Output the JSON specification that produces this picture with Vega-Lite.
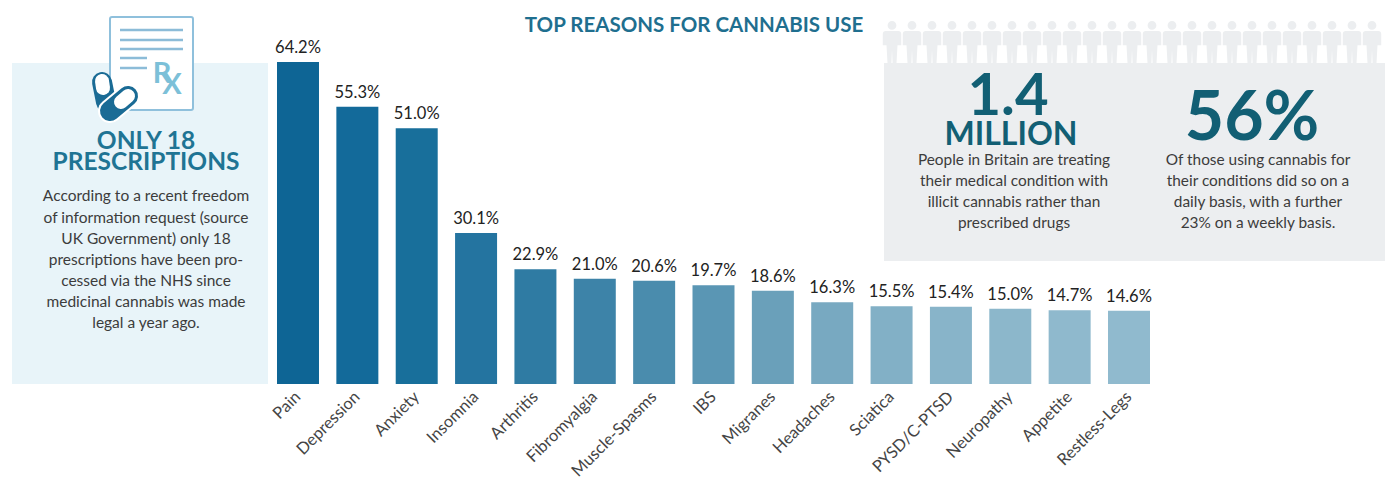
{
"$schema":"https://vega.github.io/schema/vega-lite/v6.json",
"width":1385,"height":481,"padding":0,
"autosize":{"type":"fit","contains":"padding"},
"background":"white",
"config":{"view":{"stroke":null},"text":{"font":"Lato"}},
"datasets":{
"bars":[
{"reason":"Pain","share":64.2,"label":"64.2%"},
{"reason":"Depression","share":55.3,"label":"55.3%"},
{"reason":"Anxiety","share":51.0,"label":"51.0%"},
{"reason":"Insomnia","share":30.1,"label":"30.1%"},
{"reason":"Arthritis","share":22.9,"label":"22.9%"},
{"reason":"Fibromyalgia","share":21.0,"label":"21.0%"},
{"reason":"Muscle-Spasms","share":20.6,"label":"20.6%"},
{"reason":"IBS","share":19.7,"label":"19.7%"},
{"reason":"Migranes","share":18.6,"label":"18.6%"},
{"reason":"Headaches","share":16.3,"label":"16.3%"},
{"reason":"Sciatica","share":15.5,"label":"15.5%"},
{"reason":"PYSD/C-PTSD","share":15.4,"label":"15.4%"},
{"reason":"Neuropathy","share":15.0,"label":"15.0%"},
{"reason":"Appetite","share":14.7,"label":"14.7%"},
{"reason":"Restless-Legs","share":14.6,"label":"14.6%"}
],
"panels":[
{"name":"left","px":12,"px2":268,"py":63,"py2":384},
{"name":"right","px":884,"px2":1385,"py":63,"py2":261}
],
"people":[{"px":892,"py":43},{"px":912,"py":43},{"px":932,"py":43},{"px":952,"py":43},{"px":972,"py":43},{"px":992,"py":43},{"px":1012,"py":43},{"px":1032,"py":43},{"px":1052,"py":43},{"px":1072,"py":43},{"px":1092,"py":43},{"px":1112,"py":43},{"px":1132,"py":43},{"px":1152,"py":43},{"px":1172,"py":43},{"px":1192,"py":43},{"px":1212,"py":43},{"px":1232,"py":43},{"px":1252,"py":43},{"px":1272,"py":43},{"px":1292,"py":43},{"px":1312,"py":43},{"px":1332,"py":43},{"px":1352,"py":43},{"px":1372,"py":43}]
},
"layer":[
{"layer":[
{"data":{"name":"panels"},"mark":{"type":"rect"},
 "encoding":{
  "x":{"field":"px","type":"quantitative","scale":{"domain":[0,1385],"range":[0,1385],"nice":false,"zero":false},"axis":null},
  "x2":{"field":"px2"},
  "y":{"field":"py","type":"quantitative","scale":{"domain":[0,481],"range":[0,481],"nice":false,"zero":false},"axis":null},
  "y2":{"field":"py2"},
  "color":{"field":"name","type":"nominal","scale":{"domain":["left","right"],"range":["#e8f4f9","#eceef0"]},"legend":null}}},
{"data":{"name":"people"},"mark":{"type":"point","filled":true,"opacity":1,"fill":"#eceef0","size":1936,"shape":"M0,-1 A0.2,0.2 0 1,1 0,-0.6 A0.2,0.2 0 1,1 0,-1 Z M-0.28,-0.55 L0.28,-0.55 Q0.42,-0.55 0.42,-0.4 L0.42,0.1 L0.25,0.1 L0.2,1 L0.03,1 L0,0.3 L-0.03,1 L-0.2,1 L-0.25,0.1 L-0.42,0.1 L-0.42,-0.4 Q-0.42,-0.55 -0.28,-0.55 Z"},
 "encoding":{"x":{"field":"px","type":"quantitative"},"y":{"field":"py","type":"quantitative"}}},
{"data":{"values":[{"px":110,"px2":193,"py":17,"py2":110}]},"mark":{"type":"rect","fill":"#ffffff","stroke":"#8fc0dc","strokeWidth":2,"cornerRadius":2},
 "encoding":{"x":{"field":"px","type":"quantitative"},"x2":{"field":"px2"},"y":{"field":"py","type":"quantitative"},"y2":{"field":"py2"}}},
{"data":{"values":[{"px":120,"px2":183,"py":30},{"px":120,"px2":183,"py":40},{"px":120,"px2":183,"py":49},{"px":120,"px2":147,"py":58},{"px":120,"px2":147,"py":68}]},"mark":{"type":"rule","stroke":"#8cbcd8","strokeWidth":2.5},
 "encoding":{"x":{"field":"px","type":"quantitative"},"x2":{"field":"px2"},"y":{"field":"py","type":"quantitative"}}},
{"data":{"values":[{"t":"R","px":162,"py":74},{"t":"X","px":172,"py":85}]},"mark":{"type":"text","font":"Lato","fontWeight":"bold","fontSize":29,"fill":"#7cc0d8","baseline":"middle"},
 "encoding":{"x":{"field":"px","type":"quantitative"},"y":{"field":"py","type":"quantitative"},"text":{"field":"t"}}},
{"data":{"values":[{"px":102,"py":82,"px2":106,"py2":102}]},"mark":{"type":"rule","stroke":"#1a6b95","strokeWidth":20,"strokeCap":"round"},
 "encoding":{"x":{"field":"px","type":"quantitative"},"x2":{"field":"px2"},"y":{"field":"py","type":"quantitative"},"y2":{"field":"py2"}}},
{"data":{"values":[{"px":102,"py":81,"px2":103,"py2":88}]},"mark":{"type":"rule","stroke":"#ffffff","strokeWidth":14,"strokeCap":"round"},
 "encoding":{"x":{"field":"px","type":"quantitative"},"x2":{"field":"px2"},"y":{"field":"py","type":"quantitative"},"y2":{"field":"py2"}}},
{"data":{"values":[{"px":128,"py":96,"px2":110,"py2":111}]},"mark":{"type":"rule","stroke":"#ffffff","strokeWidth":24,"strokeCap":"round"},
 "encoding":{"x":{"field":"px","type":"quantitative"},"x2":{"field":"px2"},"y":{"field":"py","type":"quantitative"},"y2":{"field":"py2"}}},
{"data":{"values":[{"px":128,"py":96,"px2":110,"py2":111}]},"mark":{"type":"rule","stroke":"#1a6b95","strokeWidth":20,"strokeCap":"round"},
 "encoding":{"x":{"field":"px","type":"quantitative"},"x2":{"field":"px2"},"y":{"field":"py","type":"quantitative"},"y2":{"field":"py2"}}},
{"data":{"values":[{"px":128,"py":96,"px2":121,"py2":102}]},"mark":{"type":"rule","stroke":"#ffffff","strokeWidth":14,"strokeCap":"round"},
 "encoding":{"x":{"field":"px","type":"quantitative"},"x2":{"field":"px2"},"y":{"field":"py","type":"quantitative"},"y2":{"field":"py2"}}},
{"data":{"values":[{"t":"TOP REASONS FOR CANNABIS USE","px":694,"py":26}]},"mark":{"type":"text","font":"Lato","fontWeight":"bold","fontSize":20.5,"fill":"#1f6f8f","baseline":"middle"},
 "encoding":{"x":{"field":"px","type":"quantitative"},"y":{"field":"py","type":"quantitative"},"text":{"field":"t"}}},
{"data":{"values":[{"t":"ONLY 18","px":146,"py":142},{"t":"PRESCRIPTIONS","px":146,"py":163}]},"mark":{"type":"text","font":"Lato","fontWeight":"bold","fontSize":24.5,"fill":"#1f7494","baseline":"middle"},
 "encoding":{"x":{"field":"px","type":"quantitative"},"y":{"field":"py","type":"quantitative"},"text":{"field":"t"}}},
{"data":{"values":[
 {"t":"According to a recent freedom","px":146,"py":196},
 {"t":"of information request (source","px":146,"py":218},
 {"t":"UK Government) only 18","px":146,"py":239},
 {"t":"prescriptions have been pro-","px":146,"py":260},
 {"t":"cessed via the NHS since","px":146,"py":281},
 {"t":"medicinal cannabis was made","px":146,"py":302},
 {"t":"legal a year ago.","px":146,"py":323}
 ]},"mark":{"type":"text","font":"Lato","fontSize":15.5,"fill":"#3c3c3c","baseline":"middle"},
 "encoding":{"x":{"field":"px","type":"quantitative"},"y":{"field":"py","type":"quantitative"},"text":{"field":"t"}}},
{"data":{"values":[{"t":"1.4","px":1008,"py":98}]},"mark":{"type":"text","font":"Lato","fontWeight":"bold","fontSize":58,"fill":"#125f74","baseline":"middle"},
 "encoding":{"x":{"field":"px","type":"quantitative"},"y":{"field":"py","type":"quantitative"},"text":{"field":"t"}}},
{"data":{"values":[{"t":"MILLION","px":1011,"py":135}]},"mark":{"type":"text","font":"Lato","fontWeight":"bold","fontSize":32,"fill":"#125f74","baseline":"middle"},
 "encoding":{"x":{"field":"px","type":"quantitative"},"y":{"field":"py","type":"quantitative"},"text":{"field":"t"}}},
{"data":{"values":[{"t":"56%","px":1252,"py":120}]},"mark":{"type":"text","font":"Lato","fontWeight":"bold","fontSize":68,"fill":"#125f74","baseline":"middle"},
 "encoding":{"x":{"field":"px","type":"quantitative"},"y":{"field":"py","type":"quantitative"},"text":{"field":"t"}}},
{"data":{"values":[
 {"t":"People in Britain are treating","px":1014,"py":160},
 {"t":"their medical condition with","px":1014,"py":181},
 {"t":"illicit cannabis rather than","px":1014,"py":202},
 {"t":"prescribed drugs","px":1014,"py":223},
 {"t":"Of those using cannabis for","px":1258,"py":160},
 {"t":"their conditions did so on a","px":1258,"py":181},
 {"t":"daily basis, with a further","px":1258,"py":202},
 {"t":"23% on a weekly basis.","px":1258,"py":223}
 ]},"mark":{"type":"text","font":"Lato","fontSize":15.4,"fill":"#3c3c3c","baseline":"middle"},
 "encoding":{"x":{"field":"px","type":"quantitative"},"y":{"field":"py","type":"quantitative"},"text":{"field":"t"}}}
]},
{"data":{"name":"bars"},
 "encoding":{
  "x":{"field":"reason","type":"nominal","sort":null,"title":null,
   "scale":{"range":[277,1150],"paddingInner":0.2925,"paddingOuter":0},
   "axis":{"orient":"bottom","offset":-97,"domain":false,"ticks":false,"labelAngle":-45,"labelAlign":"right","labelBaseline":"middle","labelFont":"Lato","labelFontSize":16.5,"labelColor":"#444444","labelPadding":10,"labelOverlap":false,"labelLimit":200}},
  "y":{"field":"share","type":"quantitative","scale":{"domain":[0,64.2],"range":[384,62]},"axis":null}},
 "layer":[
  {"mark":{"type":"bar"},
   "encoding":{"color":{"field":"reason","type":"nominal","sort":null,"legend":null,
    "scale":{"range":["#0e6595","#136a9a","#186f9b","#2474a0","#2f7ba3","#3d83a8","#4a8cad","#5a96b4","#6aa0ba","#78a9c1","#82b0c6","#88b4c9","#8cb7cb","#8fb9cd","#90bace"]}}}},
  {"mark":{"type":"text","font":"Lato","fontSize":16.5,"fill":"#222222","baseline":"bottom","dy":-6},
   "encoding":{"text":{"field":"label"}}}
 ]}
],
"resolve":{"scale":{"x":"independent","y":"independent","color":"independent"}}
}
